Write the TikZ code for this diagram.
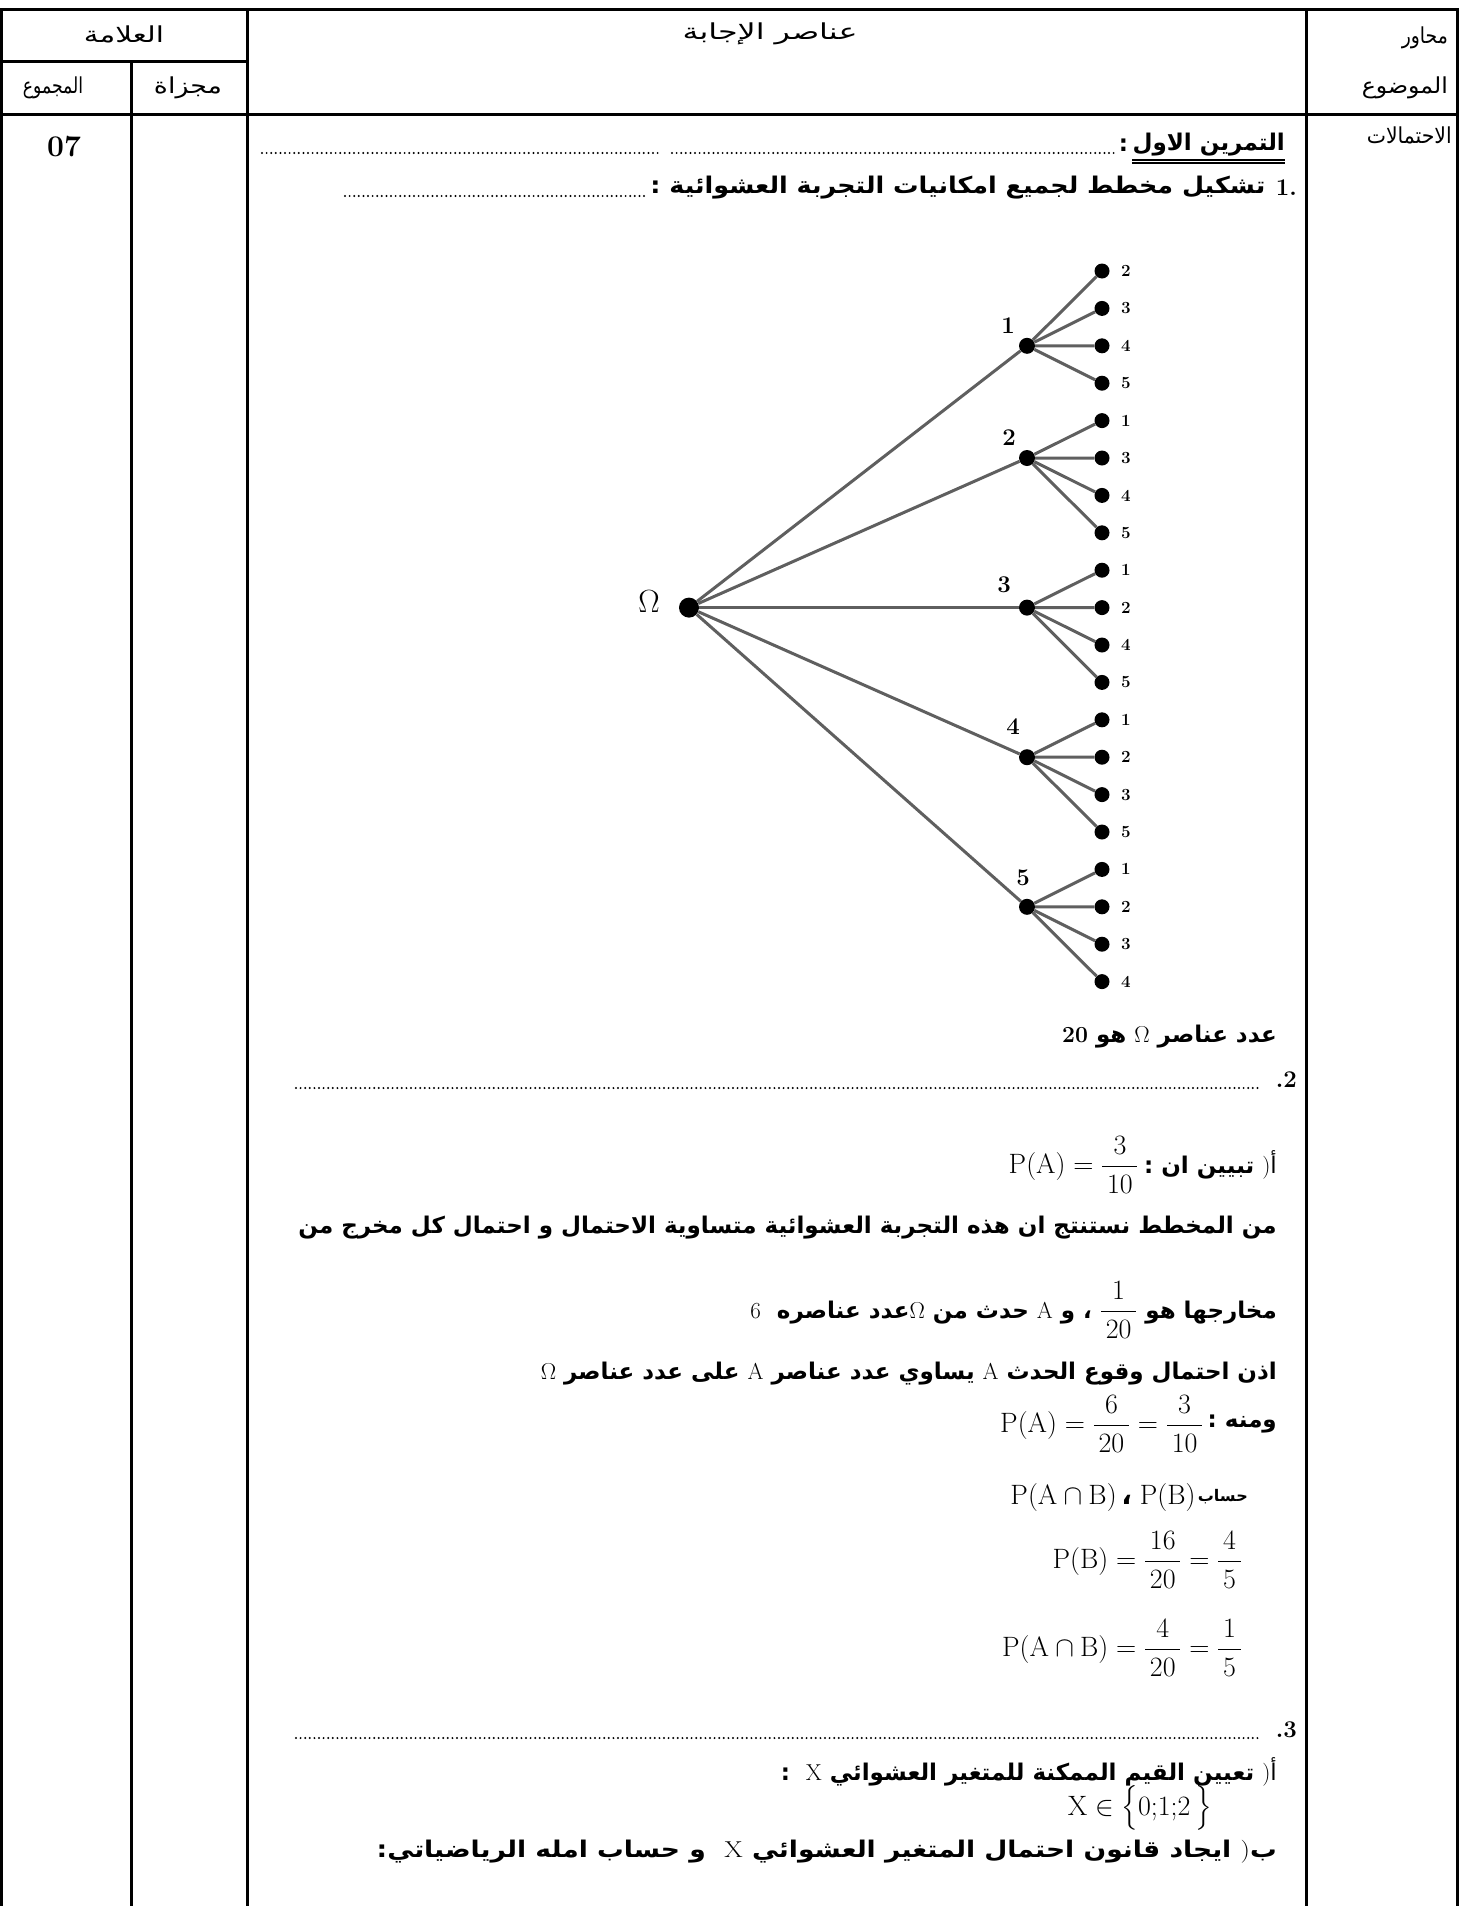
\RequirePackage{fix-cm}
\documentclass[tikz,border=0pt]{standalone}
\usepackage{amsmath}
\usepackage[no-math]{fontspec}
\usepackage{graphicx}
\TeXXeTstate=1
\newfontfamily\arreg[Script=Arabic]{DejaVu Sans}
\newfontfamily\arbold[Script=Arabic]{DejaVu Sans Bold}
\newcommand\HD[2]{\resizebox{#1}{\height}{\arreg\beginR #2\endR}}
\newcommand\BD[1]{{\arbold\beginR #1\endR}}
\newcommand\BDw[2]{\resizebox{#1}{\height}{\arbold\beginR #2\endR}}
\newcommand\M[1]{\mbox{$#1$}}
\newcommand\fr[2]{\dfrac{\,#1\,}{\,#2\,}}
\newcommand\itemA{\mbox{{\arreg أ}{\rmfamily )}}}
\newcommand\itemB{\mbox{{\arbold ب}{\rmfamily )}}}
\definecolor{edgegray}{RGB}{95,95,95}
\begin{document}
\begin{tikzpicture}[x=1pt,y=-1pt,
  rule/.style={line width=3pt},
  leaf/.style={circle,fill=black,inner sep=0,minimum size=15pt},
  midnode/.style={circle,fill=black,inner sep=0,minimum size=16pt},
  rootnode/.style={circle,fill=black,inner sep=0,minimum size=20pt},
  branch/.style={line width=3pt,draw=edgegray},
  leaflab/.style={inner sep=0,anchor=west,font=\fontsize{17}{20}\selectfont\bfseries},
  midlab/.style={inner sep=0,font=\fontsize{24}{28}\selectfont\bfseries},
  hd/.style={inner sep=0,font=\fontsize{22}{26}\selectfont},
  bd/.style={inner sep=0,anchor=east,font=\fontsize{23}{27}\selectfont},
  mth/.style={inner sep=0,anchor=east,font=\fontsize{28}{32}\selectfont},
  leader/.style={line width=2.2pt,dash pattern=on 0pt off 4.6pt,line cap=round}]
\path[use as bounding box,fill=white] (0,0) rectangle (1464,1906);
% ---------- table ----------
\draw[rule] (0,9) -- (1459,9);
\draw[rule] (1.5,61) -- (247,61);
\draw[rule] (1.5,114) -- (1457,114);
\draw[rule] (1.5,9) -- (1.5,1906);
\draw[rule] (131,61) -- (131,1906);
\draw[rule] (247,9) -- (247,1906);
\draw[rule] (1306,9) -- (1306,1906);
\draw[rule] (1457,9) -- (1457,1906);
% ---------- header ----------
\node[hd] (h1) at (124,34) {\HD{80pt}{العلامة}};
\node[hd] (h2) at (770,34) {\HD{175pt}{عناصر الإجابة}};
\node[hd,anchor=east] (h3) at (1448,38) {\HD{46pt}{محاور}};
\node[hd,anchor=east] (h4) at (1448,88) {\HD{86pt}{الموضوع}};
\node[hd] (h5) at (53,88) {\HD{60pt}{المجموع}};
\node[hd] (h6) at (188,88) {\HD{68pt}{مجزاة}};
\node[inner sep=0,font=\fontsize{30}{34}\selectfont\bfseries] (v07) at (64,147) {07};
\node[hd,anchor=east] (h7) at (1452,135) {\HD{85pt}{الاحتمالات}};
% ---------- body ----------
\node[bd] (t1) at (1285,145) {\BD{التمرين الاول}};
\node[bd] (t1c) at ([xshift=-4pt]t1.west) {\BD{:}};
\draw[line width=1.6pt] ([yshift=-3pt]t1.south west) -- ([yshift=-3pt]t1.south east);
\draw[line width=1.6pt] ([yshift=-6.5pt]t1.south west) -- ([yshift=-6.5pt]t1.south east);
\coordinate (d1a) at (262,153);
\coordinate (d1b) at (660,153);
\coordinate (d1c) at (672,153);
\draw[leader] (d1a) -- (d1b);
\draw[leader] (d1c) -- ([xshift=-3pt]t1c.west |- d1c);

\node[bd,font=\fontsize{24}{28}\selectfont\bfseries] (t2n) at (1297,188) {1.};
\node[bd] (t2) at ([xshift=-10pt]t2n.west) {\BDw{615pt}{تشكيل مخطط لجميع امكانيات  التجربة العشوائية :}};
\coordinate (d2a) at (345,196);
\draw[leader] (d2a) -- ([xshift=-4pt]t2.west |- d2a);

% ---------- tree ----------
\node[rootnode] (R) at (689,607.6) {};
\node[inner sep=0,font=\fontsize{32}{36}\selectfont] (Rl) at (649,602) {$\Omega$};
\foreach \k/\lab in {1/2,2/3,3/4,4/5,5/1,6/3,7/4,8/5,9/1,10/2,11/4,12/5,13/1,14/2,15/3,16/5,17/1,18/2,19/3,20/4}{
  \node[leaf] (L\k) at (1102,{271+37.4*(\k-1)}) {};
  \node[leaflab] (LL\k) at (1121,{271+37.4*(\k-1)}) {\lab};
}
\node[midnode] (N1) at (1027,345.8) {};
\node[midnode] (N2) at (1027,458) {};
\node[midnode] (N3) at (1027,607.6) {};
\node[midnode] (N4) at (1027,757.2) {};
\node[midnode] (N5) at (1027,906.8) {};
\node[midlab] (NL1) at (1008,326) {1};
\node[midlab] (NL2) at (1009,438) {2};
\node[midlab] (NL3) at (1004,585) {3};
\node[midlab] (NL4) at (1013,727) {4};
\node[midlab] (NL5) at (1023,878) {5};
\foreach \n in {1,...,5}{\draw[branch] (R) -- (N\n);}
\foreach \k in {1,...,4}{\draw[branch] (N1) -- (L\k);}
\foreach \k in {5,...,8}{\draw[branch] (N2) -- (L\k);}
\foreach \k in {9,...,12}{\draw[branch] (N3) -- (L\k);}
\foreach \k in {13,...,16}{\draw[branch] (N4) -- (L\k);}
\foreach \k in {17,...,20}{\draw[branch] (N5) -- (L\k);}

% ---------- after tree ----------
\node[bd] (t3) at (1277,1037) {\BD{عدد عناصر \M{\Omega} هو {\rmfamily\bfseries 20}}};
\node[bd,font=\fontsize{24}{28}\selectfont\bfseries] (t4n) at (1297,1080) {.2};
\coordinate (d4a) at (296,1088);
\draw[leader] (d4a) -- ([xshift=-14pt]t4n.west |- d4a);

\node[bd] (t5a) at (1277,1165) {\BD{\itemA\ تبيين ان :}};
\node[mth] (t5) at ([xshift=-5pt]t5a.west) {$\mathrm{P(A)}=\fr{3}{10}$};
\node[bd] (t6) at (1277,1228) {\BD{من المخطط نستنتج ان هذه التجربة العشوائية متساوية الاحتمال  و احتمال كل مخرج من}};
\node[bd] (t7) at (1277,1310) {\BD{مخارجها هو {\fontsize{28}{32}\selectfont\M{\fr{1}{20}}} ، و \M{\mathrm{A}} حدث من \M{\Omega}عدد عناصره \ \M{6}}};
\node[bd] (t8) at (1277,1374) {\BD{اذن احتمال وقوع الحدث \M{\mathrm{A}} يساوي عدد عناصر \M{\mathrm{A}} على عدد عناصر \M{\Omega}}};
\node[bd] (t9a) at (1277,1424) {\BD{ومنه :}};
\node[mth] (t9) at ([xshift=-4pt]t9a.west) {$\mathrm{P(A)}=\fr{6}{20}=\fr{3}{10}$};
\node[bd,font=\fontsize{16}{18}\selectfont] (t10a) at (1248,1497) {\BD{حساب}};
\node[mth] (t10) at ([xshift=-2pt]t10a.west) {$\mathrm{P(A\cap B)}$\,{\arbold ،}\;$\mathrm{P(B)}$};
\node[mth] (t11) at (1242,1560) {$\mathrm{P(B)}=\fr{16}{20}=\fr{4}{5}$};
\node[mth] (t12) at (1242,1648) {$\mathrm{P(A\cap B)}=\fr{4}{20}=\fr{1}{5}$};

\node[bd,font=\fontsize{24}{28}\selectfont\bfseries] (t13n) at (1297,1730) {.3};
\coordinate (d13a) at (296,1738);
\draw[leader] (d13a) -- ([xshift=-14pt]t13n.west |- d13a);

\node[bd] (t14) at (1277,1772) {\BD{\itemA\ تعيين القيم الممكنة للمتغير العشوائي \M{\mathrm{X}} \ :}};
\node[mth] (t15) at (1212,1808) {$\mathrm{X}\in\bigl\{0{;}1{;}2\,\bigr\}$};
\node[bd] (t16) at (1277,1852) {\BDw{900pt}{\itemB\ ايجاد قانون احتمال المتغير العشوائي \M{\mathrm{X}} \ و حساب امله الرياضياتي:}};
\end{tikzpicture}
\end{document}
